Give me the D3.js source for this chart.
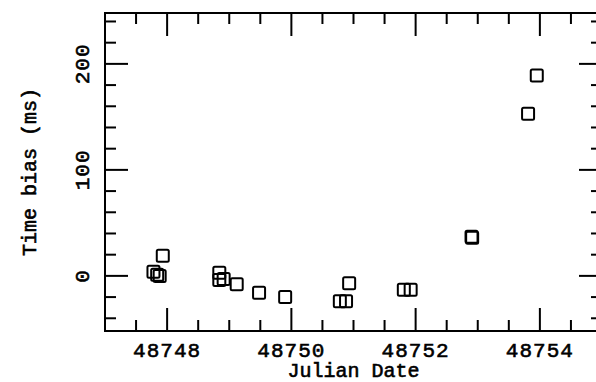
<!DOCTYPE html>
<html>
<head>
<meta charset="utf-8">
<script src="https://cdn.jsdelivr.net/npm/d3@7"></script>
<style>
  body { margin: 0; background: #fff; }
  text { font-family: "Liberation Mono", "DejaVu Sans Mono", monospace; fill: #000; stroke: #000; stroke-width: 0.6px; }
</style>
</head>
<body>
<div id="chart"></div>
<script>
const julianDate = [48747.78, 48747.84, 48747.88, 48747.93, 48748.84, 48748.84, 48748.91, 48749.12,
    48749.48, 48749.90, 48750.78, 48750.88, 48750.93, 48751.81, 48751.92, 48752.90, 48752.91,
    48753.81, 48753.95];
const timeBias = [4, 1, 0, 19, 3, -4, -3, -8, -16, -20, -24, -24, -7, -13, -13, 37, 36, 153, 189];
const xLabels = [48748, 48750, 48752, 48754];
const yLabels = [0, 100, 200];

const width = 596, height = 382;
const margin = {top: 13, right: -6, bottom: 51, left: 105};

const svg = d3.select("#chart").append("svg")
    .attr("width", width)
    .attr("height", height);

const x = d3.scaleLinear().domain([48747, 48755]).range([margin.left, width - margin.right]);
const y = d3.scaleLinear().domain([-52, 248]).range([height - margin.bottom, margin.top]);

const pts = julianDate.map((d, i) => ({jd: d, bias: timeBias[i]}));

// frame
svg.append("rect")
    .attr("x", x(48747)).attr("y", y(248))
    .attr("width", x(48755) - x(48747)).attr("height", y(-52) - y(248))
    .attr("fill", "none").attr("stroke", "#000").attr("stroke-width", 2);

// ticks on all four sides, pointing inward
const xMinor = d3.range(48747.5, 48755, 0.5);
const yMinor = d3.range(-40, 248, 20);
const isMajX = d => Math.abs(d - Math.round(d)) < 1e-6 && Math.round(d) % 2 === 0;
const isMajY = d => d % 100 === 0;

const g = svg.append("g").attr("stroke", "#000").attr("stroke-width", 2);
xMinor.forEach(d => {
    let len = isMajX(d) ? 23 : 11;
    g.append("line").attr("x1", x(d)).attr("x2", x(d)).attr("y1", y(-52)).attr("y2", y(-52) - len);
    g.append("line").attr("x1", x(d)).attr("x2", x(d)).attr("y1", y(248)).attr("y2", y(248) + len);
});
yMinor.forEach(d => {
    let len = isMajY(d) ? 23 : 11;
    g.append("line").attr("y1", y(d)).attr("y2", y(d)).attr("x1", x(48747)).attr("x2", x(48747) + len);
    g.append("line").attr("y1", y(d)).attr("y2", y(d)).attr("x1", x(48755)).attr("x2", x(48755) - len);
});

// tick labels
svg.selectAll(".xlab")
  .data(xLabels)
  .join("text")
    .attr("class", "xlab")
    .attr("x", d => x(d))
    .attr("y", 357)
    .attr("text-anchor", "middle")
    .style("font-size", "21px")
    .style("letter-spacing", "1px")
    .text(d => d);

svg.selectAll(".ylab")
  .data(yLabels)
  .join("text")
    .attr("class", "ylab")
    .attr("transform", d => `translate(89,${y(d)}) rotate(-90)`)
    .attr("text-anchor", "middle")
    .style("font-size", "21px")
    .style("letter-spacing", "1px")
    .text(d => d);

// axis titles
svg.append("text")
    .attr("x", (x(48747) + x(48755)) / 2)
    .attr("y", 377)
    .attr("text-anchor", "middle")
    .style("font-size", "20px")
    .text("Julian Date");

svg.append("text")
    .attr("transform", `translate(36,${(y(248) + y(-52)) / 2}) rotate(-90)`)
    .attr("text-anchor", "middle")
    .style("font-size", "20px")
    .text("Time bias (ms)");

// open squares
const s = 12;
svg.selectAll(".pt")
  .data(pts)
  .join("rect")
    .attr("class", "pt")
    .attr("x", d => x(d.jd) - s / 2)
    .attr("y", d => y(d.bias) - s / 2)
    .attr("width", s)
    .attr("height", s)
    .attr("rx", 1.5)
    .attr("fill", "none")
    .attr("stroke", "#000")
    .attr("stroke-width", 2);
</script>
</body>
</html>
